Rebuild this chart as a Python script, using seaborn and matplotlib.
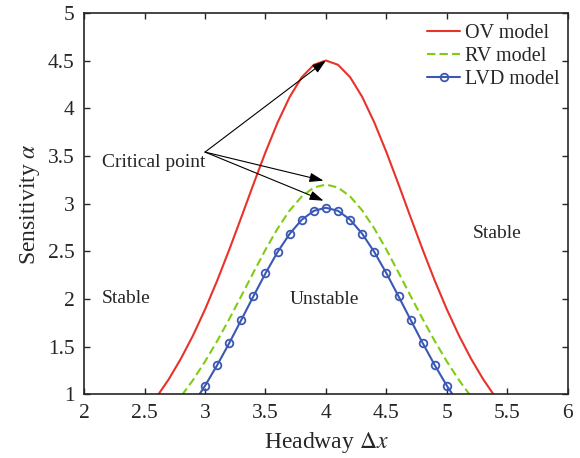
import pandas as pd
import seaborn as sns
import matplotlib.pyplot as plt

# headway samples (step 0.1)
headway = [2.6, 2.7, 2.8, 2.9, 3.0, 3.1, 3.2, 3.3, 3.4, 3.5, 3.6, 3.7, 3.8, 3.9,
           4.0, 4.1, 4.2, 4.3, 4.4, 4.5, 4.6, 4.7, 4.8, 4.9, 5.0, 5.1, 5.2, 5.3, 5.4]

ov_model = [0.973, 1.158, 1.373, 1.616, 1.890, 2.191, 2.516, 2.856, 3.202, 3.539,
            3.850, 4.118, 4.325, 4.455, 4.500, 4.455, 4.325, 4.118, 3.850, 3.539,
            3.202, 2.856, 2.516, 2.191, 1.890, 1.616, 1.373, 1.158, 0.973]

rv_model = [0.700, 0.824, 0.976, 1.149, 1.344, 1.558, 1.789, 2.031, 2.277, 2.517,
            2.738, 2.928, 3.075, 3.168, 3.200, 3.168, 3.075, 2.928, 2.738, 2.517,
            2.277, 2.031, 1.789, 1.558, 1.344, 1.149, 0.976, 0.824, 0.700]

lvd_model = [0.430, 0.560, 0.720, 0.895, 1.090, 1.305, 1.537, 1.781, 2.028, 2.269,
             2.492, 2.683, 2.831, 2.924, 2.956, 2.924, 2.831, 2.683, 2.492, 2.269,
             2.028, 1.781, 1.537, 1.305, 1.090, 0.895, 0.720, 0.560, 0.430]

x_ticks = [2, 2.5, 3, 3.5, 4, 4.5, 5, 5.5, 6]
y_ticks = [1, 1.5, 2, 2.5, 3, 3.5, 4, 4.5, 5]

df = pd.DataFrame({"x": headway, "ov": ov_model, "rv": rv_model, "lvd": lvd_model})

sns.set_style("ticks")
plt.rcParams["font.family"] = ["Liberation Serif", "DejaVu Serif"]
plt.rcParams["mathtext.fontset"] = "stix"

fig = plt.figure(figsize=(5.8, 4.58), dpi=100)
ax = fig.add_axes([0.145, 0.139, 0.834, 0.833])

sns.lineplot(data=df, x="x", y="ov", ax=ax, color="#e8332b", lw=1.5, label="OV model")
sns.lineplot(data=df, x="x", y="rv", ax=ax, color="#80cc12", lw=1.5,
             linestyle=(0, (4, 2)), label="RV model")
sns.lineplot(data=df, x="x", y="lvd", ax=ax, color="#3a58b4", lw=1.5, marker="o",
             markersize=5.5, markerfacecolor="none", markeredgecolor="#3a58b4",
             markeredgewidth=1.3, label="LVD model")

ax.set_xlim(2, 6)
ax.set_ylim(1, 5)
ax.set_xticks(x_ticks)
ax.set_xticklabels([f"{t:g}" for t in x_ticks])
ax.set_yticks(y_ticks)
ax.set_yticklabels([f"{t:g}" for t in y_ticks])
ax.tick_params(direction="in", length=4, width=1, labelsize=15.5, top=True, right=True, pad=7)
for s in ax.spines.values():
    s.set_linewidth(1.2)
    s.set_visible(True)

ax.set_xlabel(r"Headway $\Delta x$", fontsize=17, labelpad=5)
ax.set_ylabel(r"Sensitivity $\alpha$", fontsize=17, labelpad=4)

ax.legend(loc="upper right", bbox_to_anchor=(0.992, 0.982), frameon=False,
          fontsize=14.5, handlelength=1.65, handletextpad=0.25, labelspacing=0.2,
          borderaxespad=0.0, borderpad=0.2)

# critical point arrows
src = (3.0, 3.54)
for tip in [(4.0, 4.5), (3.98, 3.24), (3.98, 3.03)]:
    ax.annotate("", xy=tip, xytext=src,
                arrowprops=dict(arrowstyle="-|>,head_length=0.6,head_width=0.2",
                                color="black", lw=0.8,
                                mutation_scale=14, shrinkA=0, shrinkB=0))
ax.text(2.15, 3.43, "Critical point", fontsize=14, va="center", ha="left")
ax.text(2.15, 2.01, "Stable", fontsize=14, va="center", ha="left")
ax.text(3.70, 1.99, "Unstable", fontsize=14, va="center", ha="left")
ax.text(5.21, 2.69, "Stable", fontsize=14, va="center", ha="left")

plt.savefig("out.png", dpi=100)
plt.close()
